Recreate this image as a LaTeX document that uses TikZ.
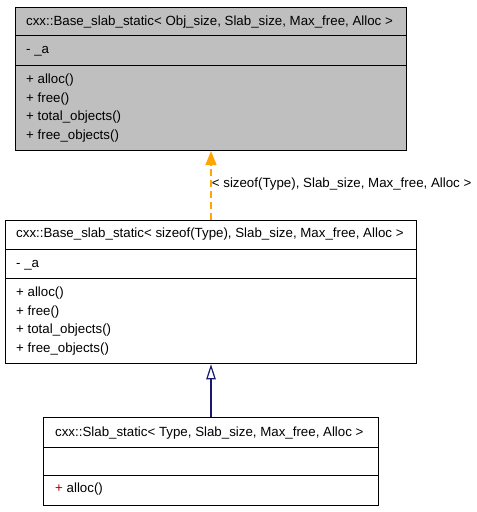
\documentclass[tikz,border=0pt]{standalone}
\usepackage{fontspec}
\setmainfont{Liberation Sans}
\usetikzlibrary{arrows.meta}
\definecolor{classgray}{RGB}{191,191,191}
\definecolor{inherit}{RGB}{25,25,112}
\definecolor{templ}{RGB}{255,165,0}
\definecolor{protcol}{RGB}{160,0,0}
\tikzset{
  classbox/.style={draw=black, line width=1pt, inner sep=0pt, anchor=north west},
  member/.style={anchor=base west, inner sep=0pt, font=\fontsize{13.3pt}{16pt}\selectfont},
  sepline/.style={draw=black, line width=1pt},
  templedge/.style={color=templ, line width=1.3pt, dash pattern=on 7pt off 4pt,
    -{Triangle[length=14pt, width=11pt, fill=templ]}},
  inheritedge/.style={color=inherit, line width=1.2pt,
    -{Triangle[open, length=15pt, width=9.5pt, fill=white]}},
}
\begin{document}
\begin{tikzpicture}[x=1pt, y=-1pt]
\useasboundingbox (0,0) rectangle (477,512);

% Base_slab_static< Obj_size, ... >
\node[classbox, fill=classgray, minimum width=391pt, minimum height=143.3pt] (base) at (15,6.7) {};
\draw[sepline] (15,35) -- (406,35);
\draw[sepline] (15,65.7) -- (406,65.7);
\node[member] (baseT) at (26,25) {cxx::Base\_slab\_static< Obj\_size, Slab\_size, Max\_free, Alloc >};
\node[member] (baseA) at (26,53) {- \_a};
\node[member] (baseM1) at (26,83) {+ alloc()};
\node[member] (baseM2) at (26,102) {+ free()};
\node[member] (baseM3) at (26,120.7) {+ total\_objects()};
\node[member] (baseM4) at (26,139.3) {+ free\_objects()};

% Base_slab_static< sizeof(Type), ... >
\node[classbox, fill=white, minimum width=411pt, minimum height=143.3pt] (mid) at (5,220) {};
\draw[sepline] (5,249) -- (416,249);
\draw[sepline] (5,278.3) -- (416,278.3);
\node[member] (midT) at (16,237.3) {cxx::Base\_slab\_static< sizeof(Type), Slab\_size, Max\_free, Alloc >};
\node[member] (midA) at (16,267.7) {- \_a};
\node[member] (midM1) at (16,296.7) {+ alloc()};
\node[member] (midM2) at (16,315) {+ free()};
\node[member] (midM3) at (16,333.3) {+ total\_objects()};
\node[member] (midM4) at (16,352.3) {+ free\_objects()};

% Slab_static
\node[classbox, fill=white, minimum width=334.4pt, minimum height=87.7pt] (slab) at (43.3,417.3) {};
\draw[sepline] (43.3,447.3) -- (377.7,447.3);
\draw[sepline] (43.3,475.7) -- (377.7,475.7);
\node[member] (slabT) at (55,436) {cxx::Slab\_static< Type, Slab\_size, Max\_free, Alloc >};
\node[member] (slabM1) at (55,492.7) {\textcolor{protcol}{+} alloc()};

% template instantiation and inheritance
\draw[templedge] (mid.north) -- (base.south);
\node[member] (instLabel) at (211.7,187.7) {< sizeof(Type), Slab\_size, Max\_free, Alloc >};
\draw[inheritedge] (slab.north) -- (mid.south);
\end{tikzpicture}
\end{document}
